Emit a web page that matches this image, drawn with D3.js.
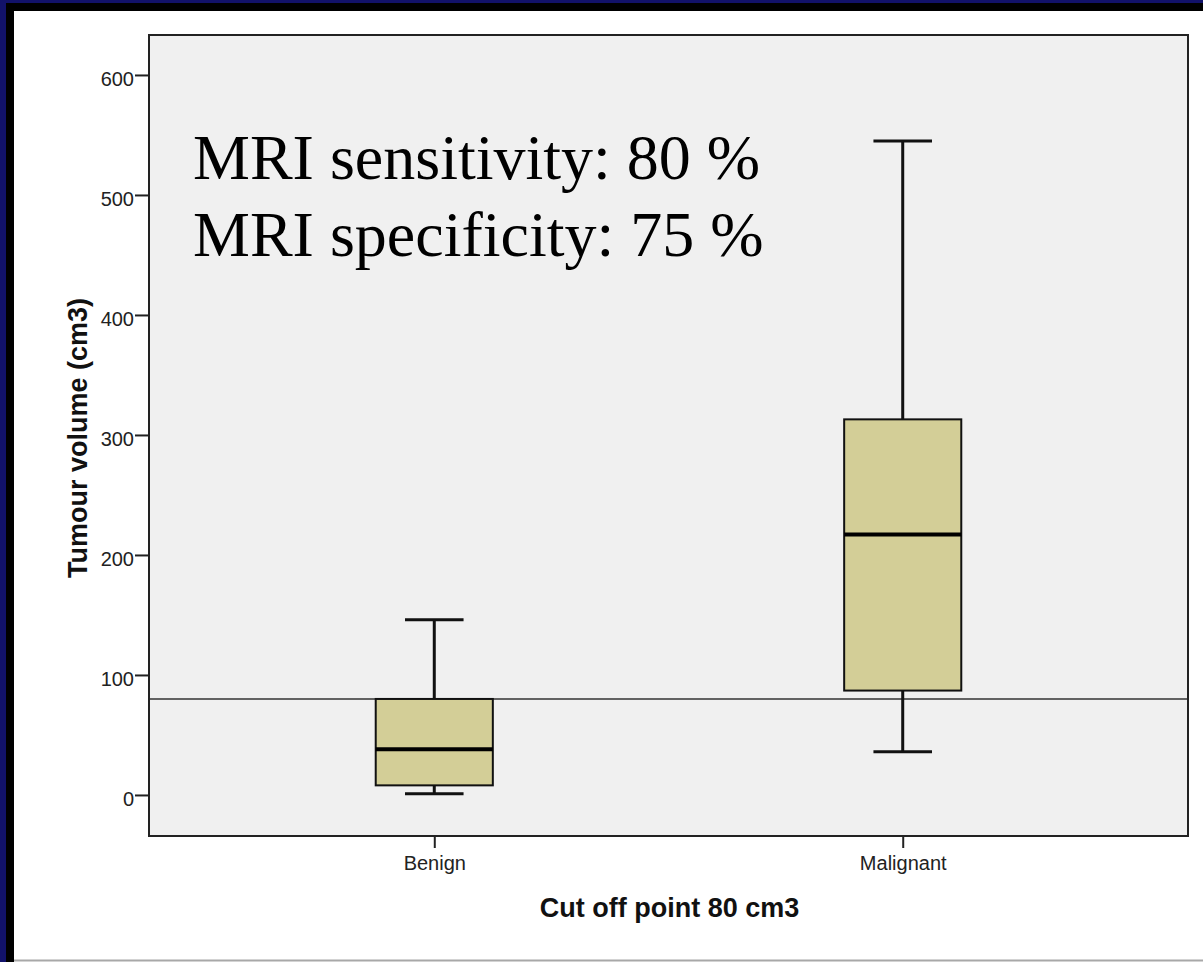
<!DOCTYPE html>
<html>
<head>
<meta charset="utf-8">
<script src="https://cdn.jsdelivr.net/npm/d3@7"></script>
<style>
  body { margin: 0; background: #ffffff; }
  svg { display: block; }
</style>
</head>
<body>
<script>
// Box plot values (cm3)
let categories = ["Benign", "Malignant"];
let whiskerLow = [1, 36];
let q1 = [8, 87];
let median = [38, 217];
let q3 = [80, 313];
let whiskerHigh = [146, 545];
let cutoff = 80;
let yTicks = [0, 100, 200, 300, 400, 500, 600];
let notes = ["MRI sensitivity: 80 %", "MRI specificity: 75 %"];

let w = 1203;
let h = 962;

// plot frame
let plotLeft = 149, plotTop = 35, plotRight = 1188, plotBottom = 836;

let svg = d3.select("body").append("svg")
    .attr("width", w)
    .attr("height", h);

// white slide with navy/black border on top and left
svg.append("rect").attr("width", w).attr("height", h).attr("fill", "#ffffff");
svg.append("rect").attr("x", 0).attr("y", 0).attr("width", w).attr("height", 11).attr("fill", "#000000");
svg.append("rect").attr("x", 0).attr("y", 0).attr("width", 14).attr("height", h).attr("fill", "#000000");
svg.append("rect").attr("x", 0).attr("y", 0).attr("width", w).attr("height", 3).attr("fill", "#12126a");
svg.append("rect").attr("x", 0).attr("y", 0).attr("width", 6).attr("height", h).attr("fill", "#12126a");
svg.append("line").attr("x1", 14).attr("x2", w).attr("y1", 960.5).attr("y2", 960.5)
    .attr("stroke", "#a8a8a8").attr("stroke-width", 2);

// scales
let x = d3.scalePoint().domain(categories).range([plotLeft, plotRight]).padding(0.609);
let y = d3.scaleLinear().domain([-34.2, 633.3]).range([plotBottom, plotTop]);
let boxW = x.step() * 0.25;
let capW = boxW / 2;

// plot background
svg.append("rect")
    .attr("x", plotLeft).attr("y", plotTop)
    .attr("width", plotRight - plotLeft).attr("height", plotBottom - plotTop)
    .attr("fill", "#f0f0f0");

// y axis
let yAxis = svg.append("g")
    .attr("transform", "translate(" + plotLeft + ",0)")
    .call(d3.axisLeft(y).tickValues(yTicks).tickSize(14).tickPadding(1).tickFormat(d3.format("d")));
yAxis.select(".domain").remove();
yAxis.selectAll("line").attr("stroke", "#222").attr("stroke-width", 2);
yAxis.selectAll("text")
    .attr("font-family", "Liberation Sans, Arial, sans-serif")
    .attr("font-size", 20)
    .attr("fill", "#222")
    .attr("dy", "0.55em");

// x axis
let xAxis = svg.append("g")
    .attr("transform", "translate(0," + plotBottom + ")")
    .call(d3.axisBottom(x).tickSize(12).tickPadding(8));
xAxis.select(".domain").remove();
xAxis.selectAll("line").attr("stroke", "#222").attr("stroke-width", 2);
xAxis.selectAll("text")
    .attr("font-family", "Liberation Sans, Arial, sans-serif")
    .attr("font-size", 20)
    .attr("fill", "#222");

// cut off line
svg.append("line")
    .attr("x1", plotLeft).attr("x2", plotRight)
    .attr("y1", y(cutoff)).attr("y2", y(cutoff))
    .attr("stroke", "#333").attr("stroke-width", 1.6);

// boxes
let groups = svg.selectAll(".box").data(categories).enter().append("g").attr("class", "box");

groups.append("line") // whisker
    .attr("x1", d => x(d)).attr("x2", d => x(d))
    .attr("y1", (d, i) => y(whiskerLow[i])).attr("y2", (d, i) => y(whiskerHigh[i]))
    .attr("stroke", "#111").attr("stroke-width", 3);

groups.append("line") // low cap
    .attr("x1", d => x(d) - capW / 2).attr("x2", d => x(d) + capW / 2)
    .attr("y1", (d, i) => y(whiskerLow[i])).attr("y2", (d, i) => y(whiskerLow[i]))
    .attr("stroke", "#111").attr("stroke-width", 3);

groups.append("line") // high cap
    .attr("x1", d => x(d) - capW / 2).attr("x2", d => x(d) + capW / 2)
    .attr("y1", (d, i) => y(whiskerHigh[i])).attr("y2", (d, i) => y(whiskerHigh[i]))
    .attr("stroke", "#111").attr("stroke-width", 3);

groups.append("rect")
    .attr("x", d => x(d) - boxW / 2)
    .attr("width", boxW)
    .attr("y", (d, i) => y(q3[i]))
    .attr("height", (d, i) => y(q1[i]) - y(q3[i]))
    .attr("fill", "#d3ce97")
    .attr("stroke", "#111").attr("stroke-width", 2);

groups.append("line") // median
    .attr("x1", d => x(d) - boxW / 2).attr("x2", d => x(d) + boxW / 2)
    .attr("y1", (d, i) => y(median[i])).attr("y2", (d, i) => y(median[i]))
    .attr("stroke", "#000").attr("stroke-width", 4);

// frame
svg.append("rect")
    .attr("x", plotLeft).attr("y", plotTop)
    .attr("width", plotRight - plotLeft).attr("height", plotBottom - plotTop)
    .attr("fill", "none")
    .attr("stroke", "#222").attr("stroke-width", 2);

// axis titles
svg.append("text")
    .attr("x", (plotLeft + plotRight) / 2 + 1).attr("y", 917)
    .attr("text-anchor", "middle")
    .attr("font-family", "Liberation Sans, Arial, sans-serif")
    .attr("font-weight", "bold")
    .attr("font-size", 27)
    .attr("fill", "#111")
    .text("Cut off point 80 cm3");

svg.append("text")
    .attr("transform", "translate(87,438) rotate(-90)")
    .attr("text-anchor", "middle")
    .attr("font-family", "Liberation Sans, Arial, sans-serif")
    .attr("font-weight", "bold")
    .attr("font-size", 27)
    .attr("fill", "#111")
    .text("Tumour volume (cm3)");

// sensitivity / specificity notes
svg.selectAll(".note").data(notes).enter().append("text")
    .attr("class", "note")
    .attr("x", 193)
    .attr("y", (d, i) => 179 + i * 77)
    .attr("font-family", "Liberation Serif, Times New Roman, serif")
    .attr("font-size", 64)
    .attr("fill", "#000")
    .text(d => d);
</script>
</body>
</html>
